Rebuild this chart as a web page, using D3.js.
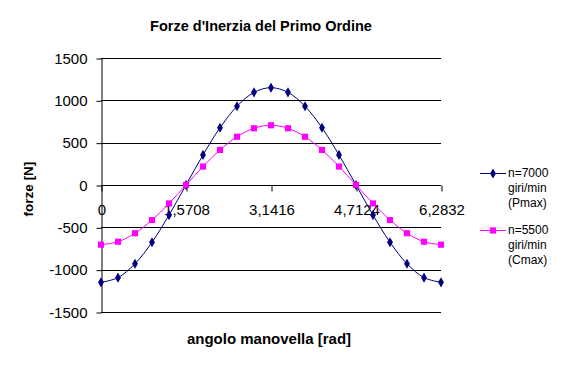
<!DOCTYPE html>
<html>
<head>
<meta charset="utf-8">
<script src="https://cdn.jsdelivr.net/npm/d3@7"></script>
<style>
  body { margin: 0; background: #fff; }
  svg { font-family: "Liberation Sans", Arial, sans-serif; }
</style>
</head>
<body>
<div id="chart"></div>
<script>
// angoli (rad) della manovella, etichette come in Excel
var categories = ["0", "0,3142", "0,6283", "0,9425", "1,2566", "1,5708", "1,885", "2,1991", "2,5133", "2,8274",
  "3,1416", "3,4558", "3,7699", "4,0841", "4,3982", "4,7124", "5,0265", "5,3407", "5,6549", "5,969", "6,2832"];

// forze [N]
var pmax = [-1150, -1094, -930, -676, -355, 0, 355, 676, 930, 1094, 1150, 1094, 930, 676, 355, 0, -355, -676, -930, -1094, -1150];
var cmax = [-705, -670, -570, -414, -218, 0, 218, 414, 570, 670, 705, 670, 570, 414, 218, 0, -218, -414, -570, -670, -705];

var yTicks = [-1500, -1000, -500, 0, 500, 1000, 1500];
var xTickIdx = [0, 5, 10, 15, 20];

var legendLines = [["n=7000", "giri/min", "(Pmax)"], ["n=5500", "giri/min", "(Cmax)"]];

var width = 568, height = 370;

var svg = d3.select("#chart")
  .append("svg")
  .attr("width", width)
  .attr("height", height);

var x = d3.scalePoint()
  .domain(d3.range(categories.length))
  .range([101, 441]);

var y = d3.scaleLinear()
  .domain([-1500, 1500])
  .range([312, 58]);

// titolo
svg.append("text")
  .attr("x", 261)
  .attr("y", 31)
  .attr("text-anchor", "middle")
  .attr("font-weight", "bold")
  .attr("font-size", 14.5)
  .text("Forze d'Inerzia del Primo Ordine");

// griglia
svg.append("g")
  .selectAll("line")
  .data(yTicks)
  .enter().append("line")
  .attr("x1", 101)
  .attr("x2", 441)
  .attr("y1", d => Math.round(y(d)) + 0.5)
  .attr("y2", d => Math.round(y(d)) + 0.5)
  .attr("stroke", "#000");

// asse y
var yAxis = svg.append("g")
  .attr("transform", "translate(101.5,0.5)")
  .call(d3.axisLeft(y).tickValues(yTicks).tickFormat(d => String(d))
    .tickSize(5).tickSizeOuter(0).tickPadding(9));
yAxis.select(".domain").attr("stroke", "#000");
yAxis.selectAll("line").attr("stroke", "#000");
yAxis.selectAll("text").attr("font-size", 15).attr("fill", "#000")
  .attr("font-family", "Liberation Sans, Arial, sans-serif");

// asse x (incrocia a 0)
var xAxis = svg.append("g")
  .attr("transform", "translate(0.5," + (Math.round(y(0)) + 0.5) + ")")
  .call(d3.axisBottom(x).tickValues(xTickIdx).tickFormat(i => categories[i])
    .tickSize(6).tickSizeOuter(0).tickPadding(13));
xAxis.select(".domain").remove();
xAxis.selectAll("line").attr("stroke", "#000");
xAxis.selectAll("text").attr("font-size", 15).attr("fill", "#000")
  .attr("font-family", "Liberation Sans, Arial, sans-serif");

// titoli assi
svg.append("text")
  .attr("x", 269)
  .attr("y", 344)
  .attr("text-anchor", "middle")
  .attr("font-weight", "bold")
  .attr("font-size", 15)
  .text("angolo manovella [rad]");

svg.append("text")
  .attr("transform", "translate(33,189) rotate(-90)")
  .attr("text-anchor", "middle")
  .attr("font-weight", "bold")
  .attr("font-size", 13.5)
  .text("forze [N]");

// serie
var series = [
  { values: pmax, color: "#000080", symbol: d3.symbolDiamond, size: 30 },
  { values: cmax, color: "#ff00ff", symbol: d3.symbolSquare, size: 38 }
];

var line = d3.line()
  .x((d, i) => x(i))
  .y(d => y(d))
  .curve(d3.curveCatmullRom.alpha(0.5));

series.forEach(function(s) {
  svg.append("path")
    .datum(s.values)
    .attr("d", line)
    .attr("fill", "none")
    .attr("stroke", s.color)
    .attr("stroke-width", 1);

  svg.append("g")
    .selectAll("path")
    .data(s.values)
    .enter().append("path")
    .attr("transform", (d, i) => "translate(" + x(i) + "," + y(d) + ")")
    .attr("d", d3.symbol().type(s.symbol).size(s.size))
    .attr("fill", s.color);
});

// legenda
var legend = svg.append("g")
  .selectAll("g")
  .data(series)
  .enter().append("g")
  .attr("transform", (d, i) => "translate(0," + (173 + i * 57) + ")");

legend.append("line")
  .attr("x1", 480)
  .attr("x2", 506)
  .attr("y1", 0.5)
  .attr("y2", 0.5)
  .attr("stroke", d => d.color);

legend.append("path")
  .attr("transform", "translate(493,0.5)")
  .attr("d", d => d3.symbol().type(d.symbol).size(d.size)())
  .attr("fill", d => d.color);

legend.each(function(d, i) {
  d3.select(this).selectAll("text")
    .data(legendLines[i])
    .enter().append("text")
    .attr("x", 508)
    .attr("y", (t, j) => 4 + j * 15)
    .attr("font-size", 12)
    .text(t => t);
});
</script>
</body>
</html>
